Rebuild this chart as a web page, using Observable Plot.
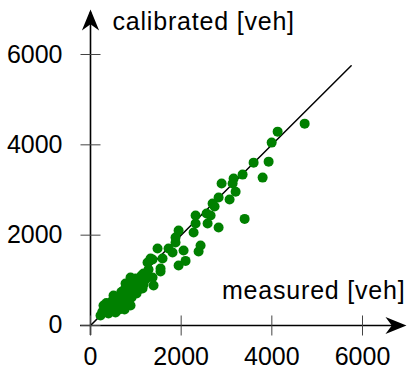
<!DOCTYPE html>
<html>
<head>
<meta charset="utf-8">
<script src="https://cdn.jsdelivr.net/npm/d3@7"></script>
<script src="https://cdn.jsdelivr.net/npm/@observablehq/plot@0.6"></script>
<style>
  html, body { margin: 0; padding: 0; background: #fff; }
</style>
</head>
<body>
<div id="chart"></div>
<script>
// measured vs calibrated traffic volumes [veh]
const measured = [4724,4128,3996,3598,3929,3797,3355,3157,3135,2892,3201,3068,2826,2693,2737,2561,2649,2318,2318,2583,3400,2826,2274,1943,1876,1876,1479,1722,1810,2053,2428,2384,1325,1589,2097,1943,1545,1369,1258,1280,1170,1104,883,773,1391,1545,1258,1369,1148,728,508,
  221,309,397,287,442,530,486,596,662,618,729,795,707,817,905,839,949,1016,927,1038,1104,773,883,994,1082,1170,1214,1126,552,751,883,
  350,420,560,640,700,760,860,960,1000,620,700,850,950,1060,470,380,260,560,680,800,920];
const calibrated = [4469,4292,4049,3606,3628,3274,3341,3252,3142,3142,2960,2788,2832,2699,2633,2478,2434,2434,2257,2257,2360,2168,2058,2102,1947,1836,1704,1704,1615,1659,1770,1637,1482,1482,1430,1327,1195,1460,1394,1239,1150,1040,1062,929,885,1261,1106,1062,819,774,664,
  221,332,265,442,398,332,553,487,420,641,575,509,730,686,619,841,774,708,929,885,818,818,995,1040,973,907,1018,1106,288,354,442,
  500,480,420,560,660,720,780,860,960,350,450,560,700,800,350,380,300,620,740,900,1000];
const tickValues = [0, 2000, 4000, 6000];
const tickLabels = ["0", "2000", "4000", "6000"];
const identityLine = [0, 5750];          // y = x reference line
const xAxisExtent = [-220, 6900];
const yAxisExtent = [-220, 6930];
const xArrowTip = 6970;
const yArrowTip = 6996;
const xTitle = "measured [veh]";
const yTitle = "calibrated [veh]";

const points = measured.map((m, i) => ({m, c: calibrated[i]}));
const ticks = tickValues.map((v, i) => ({v, label: tickLabels[i]}));

const W = 407, H = 371;
const FONT = "Liberation Sans";
const FS = 25;

const vTick = {draw(ctx, size) { const r = Math.sqrt(size / Math.PI); ctx.moveTo(0, -r); ctx.lineTo(0, r); }};
const hTick = {draw(ctx, size) { const r = Math.sqrt(size / Math.PI); ctx.moveTo(-r, 0); ctx.lineTo(r, 0); }};
const arrowRight = {draw(ctx, size) {
  const r = Math.sqrt(size / Math.PI);
  ctx.moveTo(0, 0); ctx.lineTo(-r, -0.41 * r); ctx.lineTo(-0.7 * r, 0); ctx.lineTo(-r, 0.41 * r); ctx.closePath();
}};
const arrowUp = {draw(ctx, size) {
  const r = Math.sqrt(size / Math.PI);
  ctx.moveTo(0, 0); ctx.lineTo(-0.41 * r, r); ctx.lineTo(0, 0.7 * r); ctx.lineTo(0.41 * r, r); ctx.closePath();
}};

const chart = Plot.plot({
  width: W,
  height: H,
  marginLeft: 0, marginRight: 0, marginTop: 0, marginBottom: 0,
  x: {domain: [-1985.3, 6992.6], axis: null},
  y: {domain: [-1018.5, 7195.6], axis: null},
  style: {background: "#fff", fontFamily: FONT},
  marks: [
    Plot.line(identityLine.map(v => ({v})), {x: "v", y: "v", stroke: "#000", strokeWidth: 1.5}),
    Plot.dot(points, {x: "m", y: "c", r: 5, fill: "#008000", stroke: "none"}),
    // axes
    Plot.ruleY([0], {x1: xAxisExtent[0], x2: xAxisExtent[1], stroke: "#000", strokeWidth: 1.6}),
    Plot.ruleX([0], {y1: yAxisExtent[0], y2: yAxisExtent[1], stroke: "#000", strokeWidth: 1.6}),
    Plot.dot([0], {x: xArrowTip, y: 0, symbol: arrowRight, r: 21, fill: "#000", stroke: "none"}),
    Plot.dot([0], {x: 0, y: yArrowTip, symbol: arrowUp, r: 21, fill: "#000", stroke: "none"}),
    Plot.dot(ticks, {x: "v", y: 0, symbol: vTick, r: 10, stroke: "#444", strokeWidth: 1, fill: "none"}),
    Plot.dot(ticks, {x: 0, y: "v", symbol: hTick, r: 10, stroke: "#444", strokeWidth: 1, fill: "none"}),
    Plot.text(ticks, {x: "v", y: 0, text: "label", dy: 40, lineAnchor: "bottom", textAnchor: "middle", fontSize: FS, fontFamily: FONT, fill: "#000"}),
    Plot.text(ticks, {x: 0, y: "v", text: "label", dx: -28, lineAnchor: "middle", textAnchor: "end", fontSize: FS, fontFamily: FONT, fill: "#000"}),
    Plot.text([yTitle], {frameAnchor: "top-left", dx: 112, dy: 29, lineAnchor: "bottom", textAnchor: "start", fontSize: FS, fontFamily: FONT, fill: "#000"}),
    Plot.text([xTitle], {frameAnchor: "top-right", dx: -2, dy: 298, lineAnchor: "bottom", textAnchor: "end", fontSize: FS, fontFamily: FONT, fill: "#000"})
  ]
});
d3.select(chart).selectAll("text")
  .filter(function() { return this.textContent === xTitle || this.textContent === yTitle; })
  .attr("letter-spacing", "0.8px");
document.getElementById("chart").appendChild(chart);
</script>
</body>
</html>
